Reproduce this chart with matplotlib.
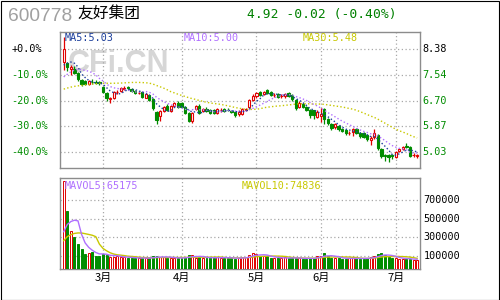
import numpy as np
import matplotlib
matplotlib.use("Agg")
import matplotlib.pyplot as plt
import matplotlib.transforms as mtransforms
from matplotlib.patches import Rectangle

# ---------------- data ----------------
stock_code = "600778"
stock_name = "友好集团"
month_labels = ["3月", "4月", "5月", "6月", "7月"]
month_start_idx = [11, 33, 54, 72, 93]   # first trading day of each month

opens = [7.97, 7.91, 7.72, 7.74, 7.59, 7.37, 7.35, 7.23, 7.32, 7.32,
         7.30, 7.15, 6.96, 6.76, 6.80, 6.98, 7.01, 7.09, 7.13, 7.08,
         7.02, 6.95, 6.99, 6.80, 6.88, 6.74, 6.34, 6.21, 6.37, 6.53,
         6.37, 6.53, 6.61, 6.61, 6.50, 6.31, 6.05, 6.42, 6.53, 6.37,
         6.42, 6.40, 6.40, 6.31, 6.39, 6.42, 6.41, 6.37, 6.34, 6.26,
         6.27, 6.41, 6.50, 6.72, 6.85, 6.99, 6.92, 7.05, 6.99, 6.87,
         6.92, 6.84, 6.85, 6.94, 6.88, 6.72, 6.50, 6.58, 6.50, 6.40,
         6.38, 6.18, 6.20, 6.42, 6.09, 5.94, 5.83, 5.87, 5.77, 5.74,
         5.64, 5.69, 5.77, 5.66, 5.64, 5.58, 5.42, 5.53, 5.58, 5.12,
         4.93, 4.92, 4.93, 4.88, 5.06, 5.12, 5.24, 5.19, 4.92, 4.90]
highs = [8.76, 7.97, 7.86, 7.83, 7.63, 7.40, 7.38, 7.36, 7.42, 7.36,
         7.33, 7.18, 6.98, 6.83, 7.02, 7.05, 7.15, 7.18, 7.18, 7.10,
         7.05, 7.00, 7.02, 6.95, 6.92, 6.77, 6.37, 6.40, 6.52, 6.58,
         6.56, 6.66, 6.70, 6.65, 6.53, 6.34, 6.32, 6.56, 6.60, 6.45,
         6.48, 6.43, 6.43, 6.45, 6.45, 6.46, 6.45, 6.40, 6.37, 6.38,
         6.45, 6.46, 6.76, 6.92, 6.98, 7.02, 7.02, 7.07, 7.02, 6.95,
         6.95, 6.92, 6.95, 6.99, 6.92, 6.75, 6.68, 6.62, 6.53, 6.43,
         6.40, 6.40, 6.45, 6.45, 6.12, 5.97, 5.98, 5.90, 5.80, 5.77,
         5.72, 5.82, 5.80, 5.69, 5.67, 5.61, 5.56, 5.77, 5.61, 5.15,
         4.98, 4.96, 4.97, 5.06, 5.15, 5.22, 5.31, 5.21, 5.00, 4.98]
lows = [7.70, 7.67, 7.53, 7.57, 7.34, 7.18, 7.20, 7.20, 7.25, 7.24,
        7.22, 6.95, 6.70, 6.63, 6.76, 6.93, 6.98, 7.05, 7.05, 6.97,
        6.92, 6.90, 6.80, 6.78, 6.70, 6.40, 5.94, 6.05, 6.32, 6.36,
        6.33, 6.50, 6.45, 6.46, 6.28, 6.00, 5.98, 6.38, 6.28, 6.33,
        6.33, 6.28, 6.28, 6.27, 6.33, 6.32, 6.35, 6.30, 6.18, 6.20,
        6.24, 6.36, 6.45, 6.68, 6.80, 6.85, 6.88, 6.92, 6.85, 6.82,
        6.80, 6.78, 6.80, 6.82, 6.70, 6.40, 6.45, 6.45, 6.35, 6.12,
        6.10, 6.12, 6.00, 5.95, 5.92, 5.75, 5.78, 5.72, 5.68, 5.58,
        5.58, 5.55, 5.60, 5.50, 5.48, 5.40, 5.25, 5.45, 5.10, 4.85,
        4.72, 4.70, 4.80, 4.85, 5.02, 5.08, 5.15, 4.87, 4.86, 4.85]
closes = [8.38, 7.80, 7.80, 7.61, 7.39, 7.23, 7.23, 7.34, 7.31, 7.28,
          7.26, 6.97, 6.80, 6.78, 6.99, 6.99, 7.12, 7.10, 7.12, 7.00,
          6.94, 6.96, 6.83, 6.91, 6.72, 6.45, 6.07, 6.36, 6.48, 6.40,
          6.53, 6.61, 6.50, 6.50, 6.31, 6.05, 6.29, 6.53, 6.31, 6.42,
          6.37, 6.31, 6.31, 6.42, 6.40, 6.36, 6.40, 6.34, 6.23, 6.34,
          6.42, 6.42, 6.72, 6.86, 6.94, 6.88, 6.99, 6.94, 6.88, 6.89,
          6.83, 6.86, 6.92, 6.85, 6.74, 6.45, 6.63, 6.50, 6.40, 6.23,
          6.23, 6.34, 6.25, 6.09, 5.98, 5.80, 5.94, 5.77, 5.72, 5.64,
          5.66, 5.77, 5.64, 5.55, 5.53, 5.44, 5.50, 5.64, 5.15, 4.90,
          4.90, 4.88, 4.91, 5.04, 5.12, 5.20, 5.20, 4.89, 4.94, 4.92]
volumes = [905000, 588000, 373000, 302000, 228000, 180000, 125000, 133000, 145000, 105000,
           105000, 125000, 115000, 90000, 92000, 95000, 88000, 85000, 80000, 80000,
           78000, 75000, 80000, 75000, 80000, 95000, 100000, 90000, 85000, 80000,
           82000, 78000, 75000, 80000, 85000, 110000, 115000, 80000, 90000, 78000,
           76000, 85000, 82000, 88000, 80000, 78000, 80000, 75000, 72000, 80000,
           85000, 90000, 110000, 133000, 120000, 105000, 100000, 95000, 80000, 75000,
           80000, 78000, 85000, 75000, 78000, 80000, 75000, 70000, 72000, 78000,
           75000, 105000, 100000, 135000, 95000, 82000, 80000, 75000, 72000, 70000,
           75000, 78000, 75000, 72000, 70000, 78000, 90000, 100000, 125000, 130000,
           110000, 85000, 80000, 80000, 67485, 72000, 65000, 68000, 62000, 58875]
# sessions before the visible window (only used for the moving averages)
history_closes = [6.80, 6.85, 6.90, 6.88, 6.82, 6.78, 6.85, 6.92, 6.95, 6.90,
                  6.86, 6.80, 6.84, 6.90, 6.95, 6.98, 6.92, 6.88, 6.85, 6.90,
                  6.95, 7.00, 7.05, 7.15, 7.30, 7.50, 7.60, 7.80, 8.00]
history_volumes = [150000, 160000, 170000, 175000, 185000, 200000, 215000, 230000, 260000]

pct_ticks = [0, -10, -20, -30, -40]
vol_ticks = [100000, 300000, 500000, 700000]

# ---------------- style ----------------
RED = "#e00000"
GREEN = "#008c00"
GRID = "#a8a8a8"
FRAME = "#8c8c8c"
MA5_C = "#1c3f9c"
MA10_C = "#b070ff"
MA30_C = "#c8c800"
MONO = "DejaVu Sans Mono"
CJK = ["Noto Sans CJK SC", "DejaVu Sans"]

W, H = 500, 300
fig = plt.figure(figsize=(5, 3), dpi=100)
fig.patch.set_facecolor("white")


def fx(px):
    return px / W


def fy(py):
    return 1 - py / H


ax = fig.add_axes([fx(60), fy(168), fx(420) - fx(60), fy(31.5) - fy(168)])
axv = fig.add_axes([fx(60), fy(269), fx(420) - fx(60), fy(178.3) - fy(269)])

n = len(closes)
x = np.arange(n)
o = np.array(opens); c = np.array(closes); h = np.array(highs); l = np.array(lows)
v = np.array(volumes, dtype=float)
base = closes[0]

all_c = np.array(history_closes + closes)
all_v = np.array(history_volumes + volumes, dtype=float)


def ma(arr, k, count):
    out = np.convolve(arr, np.ones(k) / k, mode="valid")
    return out[-count:]


ma5 = ma(all_c, 5, n)
ma10 = ma(all_c, 10, n)
ma30 = ma(all_c, 30, n)
mv5 = ma(all_v, 5, n)
mv10 = ma(all_v, 10, n)

for a in (ax, axv):
    a.set_xlim(-1.036, 99.81)
    a.set_xticks([])
    a.set_yticks([])
    for s in a.spines.values():
        s.set_color(FRAME)
        s.set_linewidth(1.0)
    for m in month_start_idx:
        a.axvline(m, color=GRID, lw=0.9, ls=(0, (1, 2)), zorder=1)

ax.set_ylim(base * (1 - 0.462), base * (1 + 0.068))
for p in pct_ticks:
    ax.axhline(base * (1 + p / 100), color=GRID, lw=0.9, ls=(0, (1, 2)), zorder=1)

vfloor = -40000
axv.set_ylim(vfloor, 937500)
for t in vol_ticks:
    axv.axhline(t, color=GRID, lw=0.9, ls=(0, (1, 2)), zorder=1)

# watermark
ax.text(fx(68), fy(64), "CFi.CN", transform=fig.transFigure, fontsize=22,
        fontweight="bold", family="Liberation Sans", color="#d6d6d6",
        va="center", ha="left", zorder=0.5)

# candles and volume bars
bw = 0.62
vw = 0.55
for i in range(n):
    up = c[i] >= o[i]
    col = RED if up else GREEN
    top = max(o[i], c[i]); bot = min(o[i], c[i])
    ax.vlines(x[i], top, h[i], color=col, lw=0.9, zorder=3)
    ax.vlines(x[i], l[i], bot, color=col, lw=0.9, zorder=3)
    hgt = max(top - bot, 0.004)
    ax.add_patch(Rectangle((x[i] - bw / 2, bot), bw, hgt,
                           facecolor="white" if up else col, edgecolor=col,
                           lw=0.8, zorder=4))
    axv.add_patch(Rectangle((x[i] - vw / 2, vfloor), vw, v[i] - vfloor,
                            facecolor="white" if up else col, edgecolor=col,
                            lw=0.7, zorder=3))

dot = (0, (1, 1.6))
ax.plot(x, ma30, color=MA30_C, lw=1.0, ls=dot, zorder=5)
ax.plot(x, ma10, color=MA10_C, lw=1.0, ls=dot, zorder=5)
ax.plot(x, ma5, color=MA5_C, lw=1.0, ls=dot, zorder=5)
axv.plot(x, mv10, color=MA30_C, lw=1.0, zorder=5)
axv.plot(x, mv5, color=MA10_C, lw=1.0, zorder=5)

# legends in panels
lab_kw = dict(transform=fig.transFigure, fontsize=7.3, family=MONO, va="center", ha="left")
fig.text(fx(65), fy(38.3), f"MA5:{ma5[-1]:.2f}", color=MA5_C, **lab_kw)
fig.text(fx(184), fy(38.3), f"MA10:{ma10[-1]:.2f}", color=MA10_C, **lab_kw)
fig.text(fx(303), fy(38.3), f"MA30:{ma30[-1]:.2f}", color=MA30_C, **lab_kw)
fig.text(fx(65), fy(185.7), f"MAVOL5:{int(round(mv5[-1]))}", color=MA10_C, **lab_kw)
fig.text(fx(242), fy(185.7), f"MAVOL10:{int(round(mv10[-1]))}", color=MA30_C, **lab_kw)

# axis labels
tr_p = mtransforms.blended_transform_factory(fig.transFigure, ax.transData)
for p in pct_ticks:
    yv = base * (1 + p / 100)
    colr = "black" if p == 0 else GREEN
    ax.text(fx(11.5), yv, f"{p:+.1f}%", transform=tr_p, color=colr, fontsize=7.3,
            family=MONO, va="center", ha="left", clip_on=False)
    ax.text(fx(422), yv, f"{yv:.2f}", transform=tr_p, color=colr, fontsize=7.3,
            family=MONO, va="center", ha="left", clip_on=False)
tr_v = mtransforms.blended_transform_factory(fig.transFigure, axv.transData)
for t in vol_ticks:
    axv.text(fx(423.5), t, f"{t}", transform=tr_v, color="black", fontsize=7.3,
             family=MONO, va="center", ha="left", clip_on=False)
tr_m = mtransforms.blended_transform_factory(axv.transData, fig.transFigure)
for m, lab in zip(month_start_idx, month_labels):
    axv.text(m, fy(277.5), lab, transform=tr_m, fontsize=8, family=CJK,
             va="center", ha="center", clip_on=False)

# header
last, prev = closes[-1], closes[-2]
chg = last - prev
pct = chg / prev * 100
fig.text(fx(8), fy(16.5), stock_code, fontsize=13.8, family="Liberation Sans",
         color="#a0a0a0", va="center", ha="left")
fig.text(fx(77), fy(14.5), stock_name, fontsize=11.3, family=CJK,
         color="black", va="center", ha="left")
fig.text(fx(247), fy(14.5), f"{last:.2f} {chg:+.2f} ({pct:+.2f}%)", fontsize=9.4,
         family=MONO, color="#008000", va="center", ha="left")

# outer frame
fig.add_artist(Rectangle((fx(0.5), fy(299.5)), fx(498.5) - fx(0.5), fy(0.5) - fy(299.5),
                         transform=fig.transFigure, fill=False, edgecolor="black", lw=0.8))

fig.savefig("out.png", dpi=100)
